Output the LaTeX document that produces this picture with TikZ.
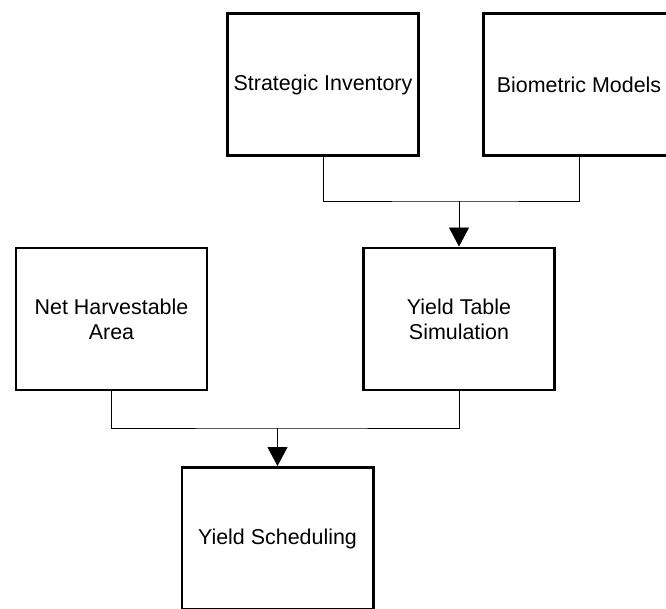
\documentclass[tikz,border=0pt]{standalone}
\usepackage{fontspec}
\setmainfont{Liberation Sans}
\usetikzlibrary{positioning, arrows.meta, calc}
\tikzset{
    block/.style={draw, line width=1.7pt, minimum width=3.82cm, minimum height=2.84cm,
        align=center, inner sep=2pt, font=\fontsize{12.2}{14.3}\selectfont},
    link/.style={line width=0.55pt},
    feed/.style={line width=0.55pt, -{Triangle[width=0.4cm,length=0.38cm]}}
}

\begin{document}
\begin{tikzpicture}
            % Frame of the page
            \useasboundingbox (0,0) rectangle (13.32,-12.16);

            % Top row
            \node[block] (inventory) at (6.46,-1.69) {Strategic Inventory};
            \node[block] (biometric) at (11.58,-1.69) {Biometric Models};

            % Middle row
            \node[block] (area) at (2.23,-6.38) {Net Harvestable\\Area};
            \node[block] (simulation) at (9.18,-6.38) {Yield Table\\Simulation};

            % Bottom row
            \node[block] (scheduling) at (5.55,-10.77) {Yield Scheduling};

            % Junctions
            \coordinate (top join) at (simulation.north |- 0,-4.02);
            \coordinate (low join) at (scheduling.north |- 0,-8.56);

            % Inventory + Models to Simulation
            \draw[link] (inventory.south) |- (top join) -| (biometric.south);
            \draw[feed] (top join) -- (simulation.north);

            % Area + Simulation to Scheduling
            \draw[link] (area.south) |- (low join) -| (simulation.south);
            \draw[feed] (low join) -- (scheduling.north);
\end{tikzpicture}
\end{document}
